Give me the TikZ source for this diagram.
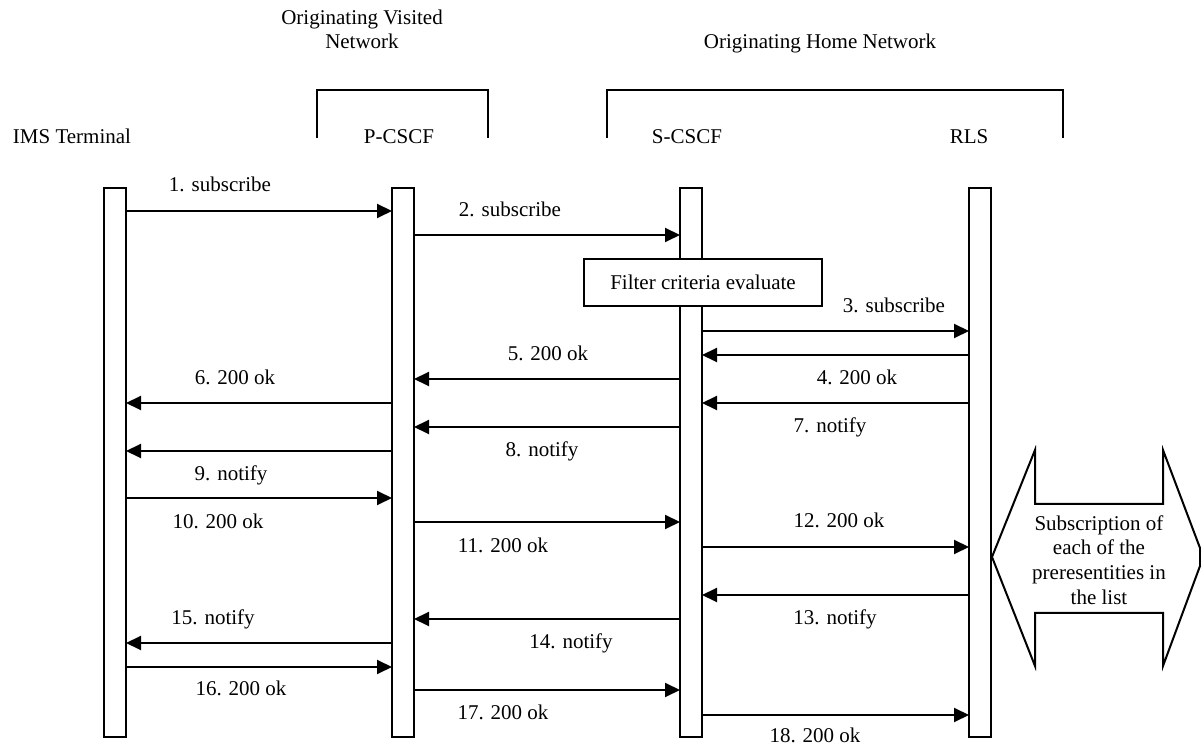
\documentclass[tikz,border=0pt]{standalone}
\usepackage{fontspec}
\setmainfont{Liberation Serif}
\usetikzlibrary{arrows.meta}
\begin{document}
\begin{tikzpicture}[x=0.5pt,y=-0.5pt,
  font=\fontsize{10.5}{12.3}\selectfont,
  bar/.style={draw, line width=1pt, fill=white, minimum width=11pt,
    minimum height=274.5pt, inner sep=0pt, outer sep=0pt},
  msg/.style={line width=1pt, -{Triangle[length=7.5pt,width=7pt]}},
  lbl/.style={inner sep=0pt, text height=1.6ex, text depth=.3ex},
  frame/.style={line width=1pt},
  boxnode/.style={draw, line width=1pt, fill=white, minimum width=119pt,
    minimum height=23.5pt, inner sep=0pt}]
\useasboundingbox (0,0) rectangle (1201,748);

% headers
\node[lbl] (hvis) at (362,19) {Originating Visited};
\node[lbl] (hvis2) at (362,43) {Network};
\node[lbl] (hhome) at (820,43) {Originating Home Network};
\draw[frame] (317,138) -- (317,90) -- (488,90) -- (488,138);
\draw[frame] (607,138) -- (607,90) -- (1063,90) -- (1063,138);
\node[lbl] (nims) at (72,138) {IMS Terminal};
\node[lbl] (npc) at (399,138) {P-CSCF};
\node[lbl] (nsc) at (687,138) {S-CSCF};
\node[lbl] (nrls) at (969,138) {RLS};

% lifelines
\node[bar] (ims) at (115,462.5) {};
\node[bar] (pc) at (403,462.5) {};
\node[bar] (sc) at (691,462.5) {};
\node[bar] (rls) at (980,462.5) {};

% filter box
\node[boxnode] (filt) at (703,282.5) {Filter criteria evaluate};

% messages
\draw[msg] (ims.east |- 0,211) -- (pc.west |- 0,211);
\node[lbl] (l1) at (220,186) {1. subscribe};
\draw[msg] (pc.east |- 0,235) -- (sc.west |- 0,235);
\node[lbl] (l2) at (510,211) {2. subscribe};
\draw[msg] (sc.east |- 0,331) -- (rls.west |- 0,331);
\node[lbl] (l3) at (894,307) {3. subscribe};
\draw[msg] (rls.west |- 0,355) -- (sc.east |- 0,355);
\node[lbl] (l4) at (857,379) {4. 200 ok};
\draw[msg] (sc.west |- 0,379) -- (pc.east |- 0,379);
\node[lbl] (l5) at (548,355) {5. 200 ok};
\draw[msg] (pc.west |- 0,403) -- (ims.east |- 0,403);
\node[lbl] (l6) at (235,379) {6. 200 ok};
\draw[msg] (rls.west |- 0,403) -- (sc.east |- 0,403);
\node[lbl] (l7) at (830,427) {7. notify};
\draw[msg] (sc.west |- 0,427) -- (pc.east |- 0,427);
\node[lbl] (l8) at (542,451) {8. notify};
\draw[msg] (pc.west |- 0,451) -- (ims.east |- 0,451);
\node[lbl] (l9) at (231,475) {9. notify};
\draw[msg] (ims.east |- 0,498) -- (pc.west |- 0,498);
\node[lbl] (l10) at (218,523) {10. 200 ok};
\draw[msg] (pc.east |- 0,522) -- (sc.west |- 0,522);
\node[lbl] (l11) at (503,547) {11. 200 ok};
\draw[msg] (sc.east |- 0,547) -- (rls.west |- 0,547);
\node[lbl] (l12) at (839,522) {12. 200 ok};
\draw[msg] (rls.west |- 0,595) -- (sc.east |- 0,595);
\node[lbl] (l13) at (835,619) {13. notify};
\draw[msg] (sc.west |- 0,619) -- (pc.east |- 0,619);
\node[lbl] (l14) at (571,643) {14. notify};
\draw[msg] (pc.west |- 0,643) -- (ims.east |- 0,643);
\node[lbl] (l15) at (213,619) {15. notify};
\draw[msg] (ims.east |- 0,667) -- (pc.west |- 0,667);
\node[lbl] (l16) at (241,690) {16. 200 ok};
\draw[msg] (pc.east |- 0,690) -- (sc.west |- 0,690);
\node[lbl] (l17) at (503,714) {17. 200 ok};
\draw[msg] (sc.east |- 0,715) -- (rls.west |- 0,715);
\node[lbl] (l18) at (815,737) {18. 200 ok};

% double arrow
\draw[frame, line join=miter] (992,557) -- (1035,450) -- (1035,504) -- (1163,504) -- (1163,450)
  -- (1200,548) -- (1200,566) -- (1163,666) -- (1163,613) -- (1035,613) -- (1035,666) -- cycle;
\node[inner sep=0pt, align=center] (subs) at (1099,560)
  {Subscription of\\each of the\\preresentities in\\the list};
\end{tikzpicture}
\end{document}
